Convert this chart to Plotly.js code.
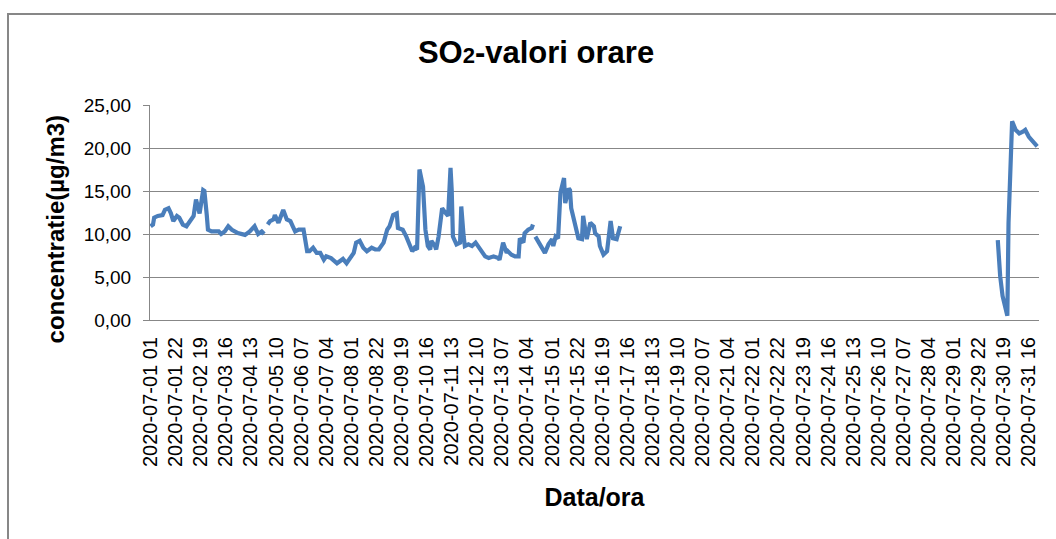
<!DOCTYPE html>
<html>
<head>
<meta charset="utf-8">
<script src="https://cdn.plot.ly/plotly-3.0.1.min.js"></script>
<style>
  html, body { margin: 0; padding: 0; background: #ffffff; overflow: hidden; }
  #frame { position: absolute; left: 7px; top: 13px; width: 1100px; height: 600px;
           border: 2px solid #878787; pointer-events: none; z-index: 2; }
  #chart { position: absolute; left: 0; top: 0; width: 1056px; height: 539px; z-index: 1; }
</style>
</head>
<body>
<div id="chart"></div>
<div id="frame"></div>
<script>
// ---- Data (hourly SO2, July 2020) ----
// hour index: 0 = "2020-07-01 01", 1 = "2020-07-01 02", ...
const hourIndex = [
  0,2,3,6,10,12,15,17,19,22,24,27,30,33,36,38,41,44,45,47,48,51,57,59,62,65,68,73,79,83,87,90,93,95,96,
  98,100,103,104,107,111,114,117,119,121,124,128,131,133,136,139,142,145,147,151,156,158,161,164,167,170,
  172,175,178,181,185,188,191,195,198,200,203,206,207,211,214,217,219,221,223,225,228,230,232,234,235,
  238,239,241,244,246,249,251,252,253,256,259,260,262,263,266,269,272,274,277,280,283,287,291,292,295,
  298,299,302,305,308,309,312,313,316,319,320,321,
  322,325,327,330,333,336,337,339,341,343,346,347,350,351,352,355,358,361,362,365,368,371,372,375,376,
  379,382,385,387,390,393,394,
  709,711,713,716,717,718,720,721,724,727,730,732,735,739,742
];
const so2Values = [
  10.9,11.1,11.9,12.1,12.2,12.8,13.0,12.4,11.5,12.1,11.9,11.1,10.9,11.5,12.1,14.0,12.4,15.1,15.0,12.2,10.5,
  10.3,10.3,10.0,10.3,10.9,10.5,10.1,9.9,10.3,10.9,10.0,10.3,10.0,null,
  11.1,11.5,11.7,12.2,11.3,12.8,11.7,11.5,10.9,10.3,10.5,10.5,8.0,8.0,8.4,7.8,7.8,7.0,7.4,7.2,6.6,6.8,7.1,
  6.6,7.2,7.8,9.0,9.2,8.4,8.0,8.4,8.2,8.2,9.0,10.5,10.9,12.2,12.4,10.7,10.5,9.7,8.6,8.0,8.4,8.2,17.5,15.5,
  10.5,8.6,8.2,9.2,8.6,8.2,9.7,13.0,12.6,12.1,17.7,15.1,9.7,8.8,9.0,13.2,9.7,8.6,8.8,8.6,9.0,8.6,7.8,7.4,
  7.2,7.4,7.2,7.0,9.0,7.8,8.0,7.6,7.4,7.4,9.5,9.0,10.1,10.5,10.7,11.1,null,
  9.7,9.0,8.6,7.8,8.8,9.4,8.6,9.7,9.5,14.8,16.5,13.6,15.3,15.1,13.0,11.3,9.5,9.4,12.1,9.4,11.3,10.9,10.1,
  9.7,8.6,7.6,8.0,11.5,9.5,9.4,10.9,null,
  9.3,5.1,2.8,1.2,0.5,11.3,19.0,23.1,22.1,21.7,21.9,22.1,21.3,20.7,20.2
];
const yTickValues = [0, 5, 10, 15, 20, 25];
const yTickLabels = ["0,00", "5,00", "10,00", "15,00", "20,00", "25,00"];
const hoursInPeriod = 744;   // 2020-07-01 01 ... 2020-08-01 00
const labelEvery = 21;       // category label interval

// ---- Category labels ----
function hourLabel(i) {
  const total = i + 1;
  const day = 1 + Math.floor(total / 24);
  const hh = total % 24;
  const pad = n => (n < 10 ? "0" : "") + n;
  if (day > 31) return "2020-08-01 " + pad(hh);
  return "2020-07-" + pad(day) + " " + pad(hh);
}
const categories = [];
for (let i = 0; i < hoursInPeriod; i++) categories.push(hourLabel(i));
const xTickVals = categories.filter((c, i) => i % labelEvery === 0);

const xData = hourIndex.map(i => categories[i]);

const font = "Liberation Sans, Arial, sans-serif";
const gridGray = "#878787";
const nb = "\u00A0";

const trace = {
  type: "scatter",
  mode: "lines",
  x: xData,
  y: so2Values,
  connectgaps: false,
  line: { color: "#4A7EBB", width: 4.2 },
  hoverinfo: "x+y"
};

const layout = {
  width: 1056,
  height: 539,
  margin: { l: 150, r: 17, t: 105, b: 219 },
  paper_bgcolor: "rgba(0,0,0,0)",
  plot_bgcolor: "#ffffff",
  showlegend: false,
  font: { family: font, color: "#000000" },
  title: {
    text: "<b>SO<span style=\"font-size:22px\">2</span>-valori orare</b>",
    font: { family: font, size: 31, color: "#000000" },
    xref: "container", x: 0.5076, xanchor: "center",
    yref: "container", y: 0.9035, yanchor: "middle"
  },
  xaxis: {
    type: "category",
    categoryorder: "array",
    categoryarray: categories,
    range: [-0.5, hoursInPeriod - 0.5],
    tickmode: "array",
    tickvals: xTickVals,
    ticktext: xTickVals,
    tickangle: -90,
    tickfont: { family: font, size: 20, color: "#000000" },
    ticks: "",
    ticklabelstandoff: 8,
    showgrid: false,
    showline: true,
    linecolor: gridGray,
    linewidth: 1,
    zeroline: false,
    automargin: false,
    fixedrange: true,
    title: { text: "<b>Data/ora</b>", font: { family: font, size: 25, color: "#000000" }, standoff: 22 }
  },
  yaxis: {
    range: [0, 25],
    tickmode: "array",
    tickvals: yTickValues,
    ticktext: yTickLabels,
    tickfont: { family: font, size: 19, color: "#000000" },
    ticks: "outside",
    ticklen: 6,
    tickcolor: gridGray,
    ticklabelstandoff: 8,
    showgrid: true,
    gridcolor: gridGray,
    gridwidth: 1,
    showline: true,
    linecolor: gridGray,
    linewidth: 1,
    zeroline: false,
    automargin: false,
    fixedrange: true,
    title: { text: "<b>concentratie(µg/m3)" + nb.repeat(5) + "</b>", font: { family: font, size: 24, color: "#000000" }, standoff: 12 }
  }
};

Plotly.newPlot("chart", [trace], layout, { displayModeBar: false, staticPlot: true });
</script>
</body>
</html>
